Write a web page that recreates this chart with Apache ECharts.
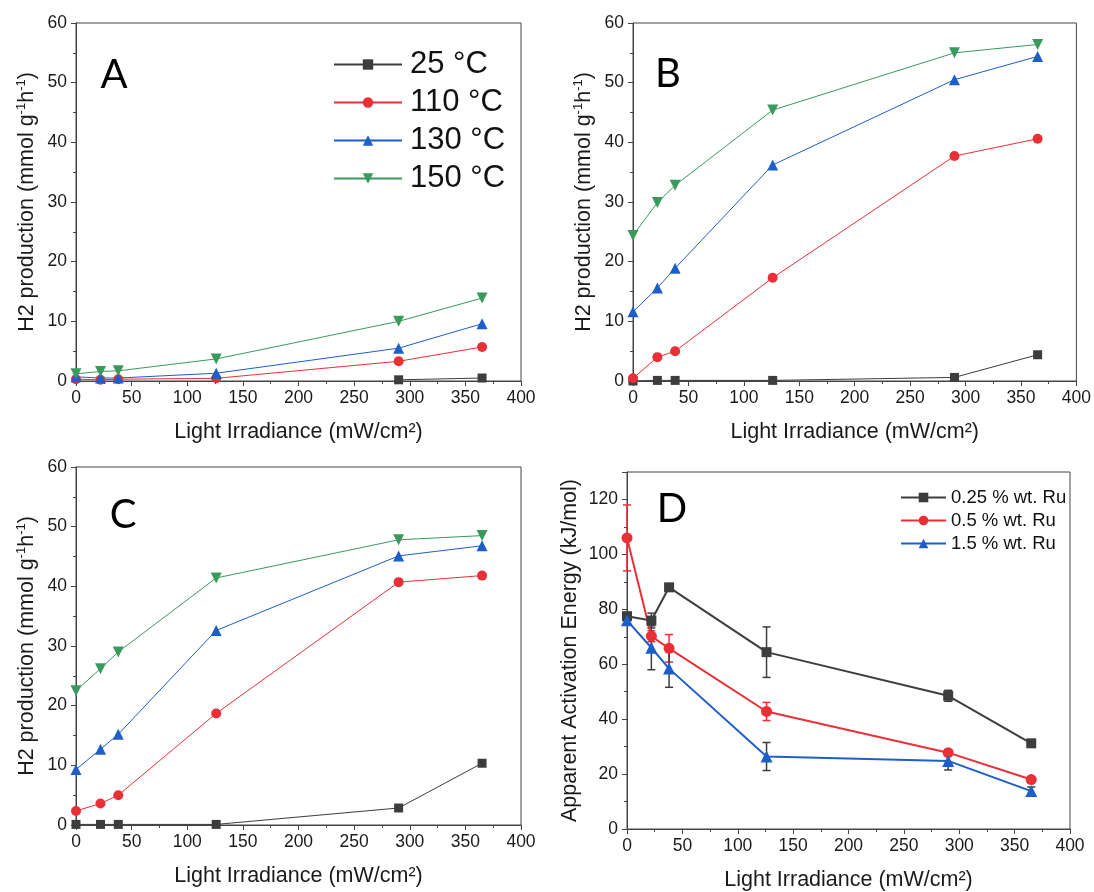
<!DOCTYPE html>
<html><head><meta charset="utf-8">
<script src="https://cdn.jsdelivr.net/npm/echarts@6/dist/echarts.min.js"></script>
<style>html,body{margin:0;padding:0;background:#fff}#c{width:1094px;height:892px}</style>
</head><body><div id="c"></div>
<script>
// ---- data ----
const irradiance = [0, 22, 38, 126, 290, 365];
const tempNames = ['25 °C', '110 °C', '130 °C', '150 °C'];
const ruNames = ['0.25 % wt. Ru', '0.5 % wt. Ru', '1.5 % wt. Ru'];
const xTicks = [0, 50, 100, 150, 200, 250, 300, 350, 400];

// Panel A
const A_25  = [null, null, null, null, 0.2, 0.5];
const A_110 = [0.3, 0.2, 0.3, 0.45, 3.3, 5.7];
const A_130 = [0.7, 0.5, 0.5, 1.3, 5.5, 9.6];
const A_150 = [1.2, 1.6, 1.7, 3.7, 10.0, 13.9];
// Panel B
const B_25  = [0, 0.1, 0.1, 0.1, 0.6, 4.4];
const B_110 = [0.45, 4.0, 5.0, 17.3, 37.7, 40.6];
const B_130 = [11.6, 15.6, 18.9, 36.2, 50.5, 54.4];
const B_150 = [24.4, 29.9, 32.8, 45.4, 55.0, 56.4];
// Panel C
const C_25  = [0.1, 0.1, 0.1, 0.1, 2.85, 10.35];
const C_110 = [2.35, 3.6, 5.0, 18.7, 40.7, 41.8];
const C_130 = [9.3, 12.7, 15.2, 32.6, 45.1, 46.8];
const C_150 = [22.5, 26.2, 29.0, 41.4, 47.8, 48.5];
// Panel D (apparent activation energy) and error bars
const D_025 = [77.5, 75.9, 88.0, 64.4, 48.5, 31.2];
const D_05  = [106.0, 70.2, 65.8, 42.8, 27.8, 18.0];
const D_15  = [76.0, 66.0, 58.4, 26.4, 24.8, 13.8];
const D_025_err = [0, 2.7, 0.8, 9.2, 2, 1.2];
const D_05_err  = [12, 2, 5, 3.3, 1, 1];
const D_15_err  = [1, 8, 6.8, 5.1, 3.3, 1.5];

// ---- styles ----
const colors = ['#3d3d3d', '#ea2f37', '#1d5fc9', '#389a5c'];
const symbols = ['rect', 'circle', 'triangle', 'triangle'];
const rotates = [0, 0, 0, 180];
const sizes = [9, 10, 11, 11];
const FONT = '"Liberation Sans", Arial, sans-serif';

const grids = [
  {left: 76, top: 23, width: 445, height: 358},
  {left: 633, top: 23, width: 444, height: 358},
  {left: 76, top: 467, width: 445, height: 358},
  {left: 627, top: 472, width: 443, height: 357}
].map(g => Object.assign(g, {show: true, borderColor: '#444', borderWidth: 1, backgroundColor: 'transparent'}));

const axisCommon = {
  axisLine: {show: true, onZero: false, lineStyle: {color: '#444', width: 1}},
  axisTick: {show: true, length: 5, lineStyle: {color: '#444'}},
  minorTick: {show: true, splitNumber: 2, length: 3, lineStyle: {color: '#444'}},
  splitLine: {show: false},
  axisLabel: {color: '#1a1a1a', fontSize: 17.5, fontFamily: FONT},
  nameTextStyle: {color: '#1a1a1a', fontSize: 21.5, fontFamily: FONT,
    rich: {s: {fontSize: 13, fontFamily: FONT, color: '#1a1a1a', padding: [0, 0, 12, 0]}}}
};

const xAxes = [0, 1, 2, 3].map(i => Object.assign({}, axisCommon, {
  type: 'value', gridIndex: i, min: xTicks[0], max: xTicks[xTicks.length - 1], interval: 50,
  name: 'Light Irradiance (mW/cm²)', nameLocation: 'middle', nameGap: 40,
  axisLabel: Object.assign({}, axisCommon.axisLabel, {margin: 8})
}));

const yAxes = [0, 1, 2].map(i => Object.assign({}, axisCommon, {
  type: 'value', gridIndex: i, min: 0, max: 60, interval: 10,
  name: 'H2 production (mmol g{s|-1}h{s|-1})', nameLocation: 'middle', nameGap: 36,
  axisLabel: Object.assign({}, axisCommon.axisLabel, {margin: 9})
}));
yAxes.push(Object.assign({}, axisCommon, {
  type: 'value', gridIndex: 3, min: 0, max: 130, interval: 20,
  name: 'Apparent Activation Energy (kJ/mol)', nameLocation: 'middle', nameGap: 46,
  axisLabel: Object.assign({}, axisCommon.axisLabel, {margin: 9, showMaxLabel: false,
    formatter: v => (v > 120 ? '' : v)})
}));

function lineSeries(idx, name, vals, k, lw) {
  return {
    type: 'line', name: name, xAxisIndex: idx, yAxisIndex: idx,
    data: irradiance.map((x, j) => [x, vals[j]]),
    symbol: symbols[k], symbolRotate: rotates[k], symbolSize: lw > 1 ? sizes[k] + 1 : sizes[k],
    showAllSymbol: true, clip: false, connectNulls: false,
    lineStyle: {color: colors[k], width: lw},
    itemStyle: {color: colors[k]},
    emphasis: {disabled: true}, animation: false
  };
}

function errSeries(idx, vals, errs, color) {
  return {
    type: 'custom', name: 'err', xAxisIndex: idx, yAxisIndex: idx,
    data: irradiance.map((x, j) => [x, vals[j], errs[j]]),
    encode: {x: 0, y: 1}, z: 3, animation: false, silent: true,
    renderItem: function (params, api) {
      const x = api.value(0), y = api.value(1), e = api.value(2);
      if (!e) return null;
      const hi = api.coord([x, y + e]), lo = api.coord([x, y - e]);
      const w = 4;
      const st = {stroke: color, lineWidth: 1.5};
      return {type: 'group', children: [
        {type: 'line', shape: {x1: hi[0], y1: hi[1], x2: lo[0], y2: lo[1]}, style: st},
        {type: 'line', shape: {x1: hi[0] - w, y1: hi[1], x2: hi[0] + w, y2: hi[1]}, style: st},
        {type: 'line', shape: {x1: lo[0] - w, y1: lo[1], x2: lo[0] + w, y2: lo[1]}, style: st}
      ]};
    }
  };
}

const series = [];
[[A_25, A_110, A_130, A_150], [B_25, B_110, B_130, B_150], [C_25, C_110, C_130, C_150]].forEach((set, idx) => {
  set.forEach((vals, k) => series.push(lineSeries(idx, tempNames[k], vals, k, 1)));
});
[D_025, D_05, D_15].forEach((vals, k) => series.push(lineSeries(3, ruNames[k], vals, k, 2)));
series.push(errSeries(3, D_025, D_025_err, colors[0]));
series.push(errSeries(3, D_05, D_05_err, colors[1]));
series.push(errSeries(3, D_15, D_15_err, colors[0]));

const letters = [['A', 114, 75], ['B', 668, 74], ['C', 123, 515], ['D', 672, 509]];

const chart = echarts.init(document.getElementById('c'), null, {renderer: 'canvas'});
chart.setOption({
  animation: false,
  backgroundColor: '#fff',
  grid: grids,
  xAxis: xAxes,
  yAxis: yAxes,
  legend: [
    {
      data: tempNames, orient: 'vertical', left: 328, top: 44, padding: 5,
      itemWidth: 68, itemHeight: 13, itemGap: 7, selectedMode: false,
      textStyle: {fontSize: 31, lineHeight: 31, color: '#111', fontFamily: FONT, padding: [0, 0, 0, 3]}
    },
    {
      data: ruNames, orient: 'vertical', left: 895, top: 483, padding: 5,
      itemWidth: 45, itemHeight: 12, itemGap: 4, selectedMode: false,
      textStyle: {fontSize: 18.5, lineHeight: 18.5, color: '#111', fontFamily: FONT}
    }
  ],
  graphic: letters.map(l => ({
    type: 'text', x: l[1], y: l[2], silent: true,
    style: {text: l[0], fontSize: 40, fontFamily: 'Lato, "Open Sans", sans-serif', fill: '#000',
      align: 'center', verticalAlign: 'middle'}
  })),
  series: series
});
</script>
</body></html>
